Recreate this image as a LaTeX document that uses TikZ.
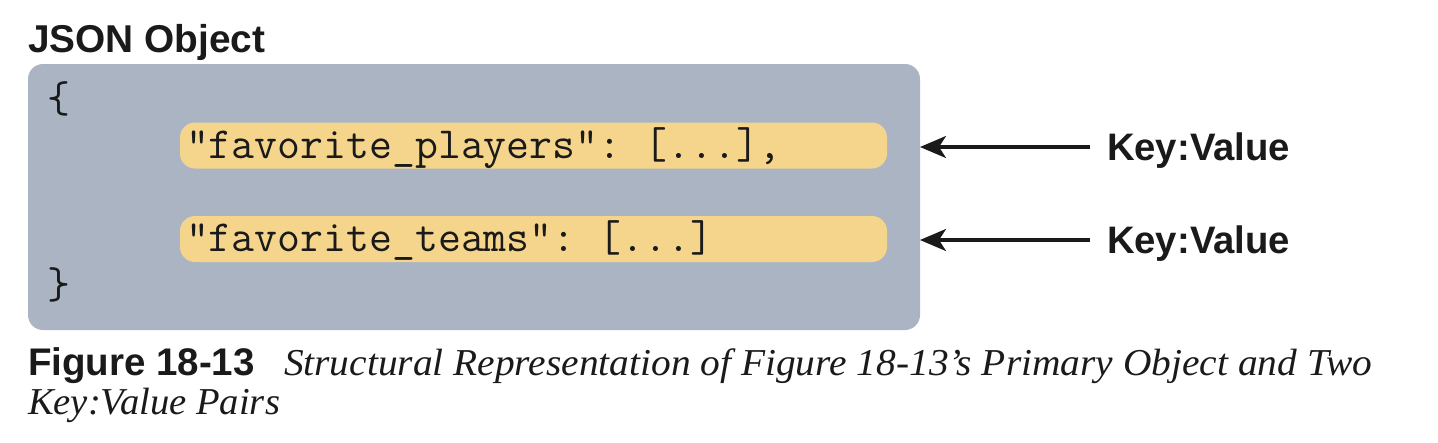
\documentclass[tikz,border=0pt]{standalone}
\usepackage{fontspec}
\usepackage{graphicx}
\usetikzlibrary{arrows.meta}
\newfontfamily\sansf{Liberation Sans}
\newfontfamily\seriff{Liberation Serif}
\definecolor{boxgray}{HTML}{AAB4C3}
\definecolor{pillyellow}{HTML}{F5D58B}
\definecolor{ink}{HTML}{1A1A1A}
\frenchspacing
\begin{document}
\begin{tikzpicture}[x=1pt,y=-1pt,
  every node/.style={inner sep=0pt, outer sep=0pt, text=ink},
  objbox/.style={fill=boxgray, rounded corners=15pt, minimum width=892pt, minimum height=266pt},
  pill/.style={fill=pillyellow, rounded corners=15pt, minimum width=707pt, minimum height=46pt},
  codefont/.style={font=\ttfamily\frenchspacing\fontsize{44.5}{48}\selectfont},
  codetxt/.style={anchor=base west, codefont},
  boldlbl/.style={anchor=base west, font=\sansf\bfseries\fontsize{38.3}{42}\selectfont},
  captxt/.style={anchor=base west, font=\seriff\itshape\fontsize{38}{42}\selectfont},
  arr/.style={draw=ink, line width=3.2pt, -{Stealth[length=26pt,width=22pt,inset=7pt]}}
]
\useasboundingbox (0,0) rectangle (1438,442);
\node[boldlbl, font=\sansf\bfseries\fontsize{38.8}{42}\selectfont] (title) at (28,52) {JSON Object};
\node[objbox] (box) at (474,197) {};
\node[pill] (p1) at (533.5,145.5) {};
\node[pill] (p2) at (533.5,239) {};
\node[anchor=west, codefont] (ob) at (47,99) {\{};
\node[anchor=west, codefont] (cb) at (47,285) {\}};
\node[codetxt] (t1) at (186,158) {"favorite\_players": [...],};
\node[codetxt] (t2) at (186,251) {"favorite\_teams": [...]};
\node[boldlbl] (k1) at (1107,160) {Key:Value};
\node[boldlbl] (k2) at (1107,253) {Key:Value};
\coordinate (a1) at (1090,147);
\coordinate (a2) at (1090,240);
\draw[arr] (a1) -- (box.east |- a1);
\draw[arr] (a2) -- (box.east |- a2);
\node[anchor=base west, font=\sansf\bfseries\fontsize{38.5}{42}\selectfont] (fig) at (28,375) {Figure 18-13};
\node[captxt] (cap1) at (284,375) {\resizebox{1088pt}{\height}{Structural Representation of Figure 18-13’s Primary Object and Two}};
\node[captxt] (cap2) at (28,414) {\resizebox{252pt}{\height}{Key:Value Pairs}};
\end{tikzpicture}
\end{document}
